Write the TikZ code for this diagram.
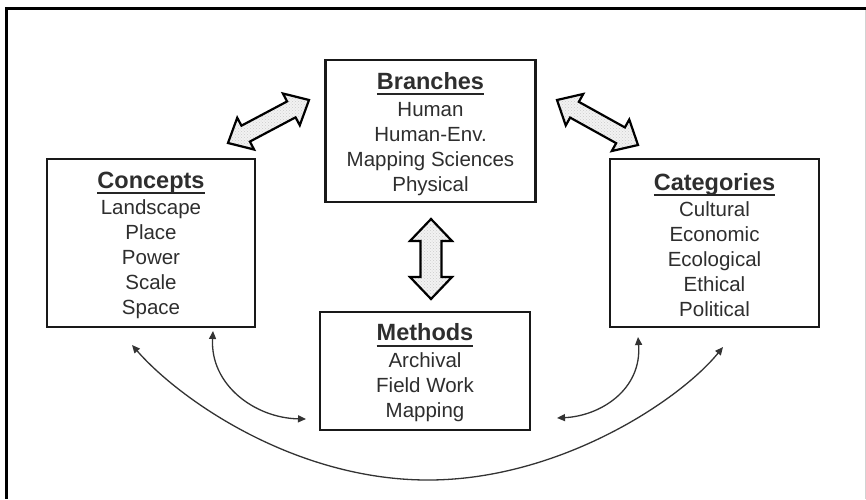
\documentclass[tikz,border=0pt]{standalone}
\usepackage{fontspec}
\setmainfont{Liberation Sans}
\usetikzlibrary{calc,arrows.meta,patterns}
\newcommand\ttl[1]{\setbox0\hbox{\fontsize{23.5}{27}\selectfont\bfseries #1}\leavevmode\rlap{\color{black!85}\rule[-6pt]{\wd0}{2.2pt}}\box0}
\newcommand\fatarrow[5]{%
 \path[fatstyle] (#1)
  -- ($($(#1)!#3!(#2)$)!#4!90:(#2)$)
  -- ($($(#1)!#3!(#2)$)!#5!90:(#2)$)
  -- ($($(#2)!#3!(#1)$)!#5!-90:(#1)$)
  -- ($($(#2)!#3!(#1)$)!#4!-90:(#1)$)
  -- (#2)
  -- ($($(#2)!#3!(#1)$)!#4!90:(#1)$)
  -- ($($(#2)!#3!(#1)$)!#5!90:(#1)$)
  -- ($($(#1)!#3!(#2)$)!#5!-90:(#2)$)
  -- ($($(#1)!#3!(#2)$)!#4!-90:(#2)$)
  -- cycle;}
\begin{document}
\begin{tikzpicture}[x=1pt,y=-1pt,
  box/.style={draw=black!90, line width=2.8pt, inner sep=0pt},
  txt/.style={align=center, inner sep=0pt, text=black!82, font=\fontsize{20.5}{25}\selectfont},
  fatstyle/.style={draw=black, line width=2.2pt, line join=miter, preaction={fill=gray!10}, pattern=crosshatch dots, pattern color=gray!40},
  link/.style={draw=black!80, line width=1.3pt, {Triangle[length=8pt,width=7pt]}-{Triangle[length=8pt,width=7pt]}}]
\useasboundingbox (0,0) rectangle (866,499);
\fill[white] (0,0) rectangle (866,499);
% frame
\draw[line width=3pt] (5,8.5) -- (866,8.5);
\draw[line width=3pt] (6.5,7) -- (6.5,499);
\draw[gray!35, line width=1pt] (865,10) -- (865,499);
% boxes
\node[box, minimum width=210pt, minimum height=142pt] (branches) at (430.5,131) {};
\node[box, minimum width=208pt, minimum height=168pt] (concepts) at (151,243) {};
\node[box, minimum width=209pt, minimum height=168pt] (categories) at (714.5,243) {};
\node[box, minimum width=210pt, minimum height=118pt] (methods) at (425,371) {};
% texts
\node[txt] (tb) at ($(branches.center)+(0,3)$) {\ttl{Branches}\\[2pt]Human\\Human-Env.\\Mapping Sciences\\Physical};
\node[txt] (tc) at ($(concepts.center)+(0,2)$) {\ttl{Concepts}\\[1pt]Landscape\\Place\\Power\\Scale\\Space};
\node[txt] (tk) at ($(categories.center)+(0,2)$) {\ttl{Categories}\\[1pt]Cultural\\Economic\\Ecological\\Ethical\\Political};
\node[txt] (tm) at ($(methods.center)+(0,2)$) {\ttl{Methods}\\[2pt]Archival\\Field Work\\Mapping};
% fat arrows
\coordinate (fl1) at (228,143); \coordinate (fl2) at (309,100);
\coordinate (fr1) at (557,100); \coordinate (fr2) at (638,145);
\coordinate (fv1) at (431,219); \coordinate (fv2) at (431,299);
\fatarrow{fl1}{fl2}{20pt}{18pt}{9pt}
\fatarrow{fr1}{fr2}{20pt}{18pt}{9pt}
\fatarrow{fv1}{fv2}{22pt}{21pt}{10.5pt}
% thin curved arrows
\coordinate (c1a) at (213,331); \coordinate (c1b) at (306,419);
\coordinate (c2a) at (132,345); \coordinate (c2m) at (428,480); \coordinate (c2b) at (723,347);
\coordinate (c3a) at (638,337); \coordinate (c3b) at (557,418);
\draw[link] (c1a) .. controls (210,385) and (255,418) .. (c1b);
\draw[link] (c2a) .. controls (180,400) and (295,480) .. (c2m) .. controls (560,480) and (680,400) .. (c2b);
\draw[link] (c3a) .. controls (642,390) and (600,416) .. (c3b);
\end{tikzpicture}
\end{document}
